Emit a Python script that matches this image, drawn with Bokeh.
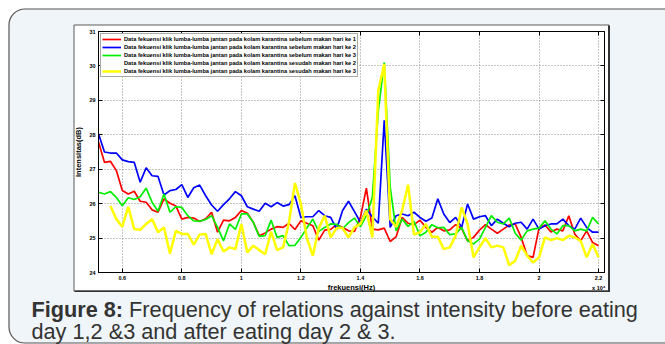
from bokeh.plotting import figure
from bokeh.models import Range1d, FixedTicker, Legend, LegendItem, LinearAxis
from bokeh.core.properties import value
from bokeh.embed import file_html
from bokeh.resources import INLINE

# ---------------- data (frequency in units of 10^4 Hz, intensity in dB) ----------------
freq = [0.52, 0.54, 0.56, 0.58, 0.60, 0.62, 0.64, 0.66, 0.68, 0.70,
        0.72, 0.74, 0.76, 0.78, 0.80, 0.82, 0.84, 0.86, 0.88, 0.90,
        0.92, 0.94, 0.96, 0.98, 1.00, 1.02, 1.04, 1.06, 1.08, 1.10,
        1.12, 1.14, 1.16, 1.18, 1.20, 1.22, 1.24, 1.26, 1.28, 1.30,
        1.32, 1.34, 1.36, 1.38, 1.40, 1.42, 1.44, 1.46, 1.48, 1.50,
        1.52, 1.54, 1.56, 1.58, 1.60, 1.62, 1.64, 1.66, 1.68, 1.70,
        1.72, 1.74, 1.76, 1.78, 1.80, 1.82, 1.84, 1.86, 1.88, 1.90,
        1.92, 1.94, 1.96, 1.98, 2.00, 2.02, 2.04, 2.06, 2.08, 2.10,
        2.12, 2.14, 2.16, 2.18, 2.20]

before_day1 = [27.79, 27.20, 27.23, 26.96, 26.38, 26.28, 26.36, 26.07, 26.04, 25.82,
               25.75, 26.14, 26.01, 25.93, 25.55, 25.60, 25.58, 25.48, 25.56, 25.75,
               25.17, 25.52, 25.50, 25.60, 25.80, 25.72, 25.46, 25.07, 25.15, 25.26,
               25.33, 25.31, 25.43, 25.25, 25.50, 25.43, 25.36, 24.94, 25.23, 25.25,
               25.39, 25.31, 25.21, 25.19, 25.60, 26.45, 25.26, 25.24, 25.29, 24.90,
               25.04, 25.60, 25.43, 25.39, 25.52, 25.31, 25.17, 25.31, 25.21, 25.24,
               25.39, 25.28, 24.92, 25.02, 25.23, 25.39, 25.26, 25.14, 25.26, 25.38,
               25.41, 25.02, 24.49, 24.44, 25.29, 25.38, 25.18, 25.26, 25.21, 25.65,
               25.12, 24.92, 25.21, 24.87, 24.78]

before_day2 = [28.03, 27.50, 27.47, 27.47, 27.27, 27.22, 27.20, 26.62, 27.04, 26.81,
               26.79, 26.25, 26.38, 26.41, 26.55, 26.18, 26.46, 26.54, 26.23, 25.96,
               25.78, 25.97, 26.14, 26.35, 26.23, 25.91, 25.84, 25.78, 26.01, 25.91,
               26.03, 25.93, 25.97, 26.23, 25.60, 25.62, 25.62, 25.80, 25.65, 25.60,
               25.26, 25.80, 26.07, 25.77, 25.46, 25.84, 25.62, 25.43, 28.42, 25.31,
               25.65, 25.70, 25.65, 25.75, 25.60, 25.49, 25.58, 26.14, 25.70, 25.45,
               25.60, 25.31, 25.99, 25.55, 25.62, 25.65, 25.36, 25.55, 25.43, 25.33,
               25.43, 25.46, 25.26, 25.55, 25.26, 25.36, 25.41, 25.41, 25.55, 25.36,
               25.26, 25.58, 25.31, 25.17, 25.17]

before_day3 = [26.33, 26.28, 26.35, 26.18, 25.94, 26.17, 26.12, 26.20, 26.45, 26.04,
               25.78, 26.28, 25.75, 25.91, 25.89, 25.65, 25.50, 25.49, 25.54, 25.65,
               25.31, 24.92, 25.41, 25.25, 25.70, 25.70, 25.46, 25.05, 25.07, 25.52,
               25.02, 25.07, 24.78, 24.79, 25.02, 25.29, 25.55, 25.19, 25.31, 25.41,
               25.40, 25.27, 25.45, 25.58, 25.33, 25.65, 26.18, 28.70, 30.10, 26.48,
               25.21, 25.55, 25.34, 25.49, 25.07, 25.17, 25.39, 25.30, 25.31, 25.10,
               25.12, 25.31, 24.92, 24.83, 24.97, 25.31, 25.65, 25.46, 25.41, 25.58,
               25.14, 24.94, 25.21, 25.26, 25.29, 25.50, 25.26, 25.12, 25.36, 25.36,
               25.21, 25.26, 25.21, 25.60, 25.41]

# after eating, day 2 (black) is not visible in the picture (hidden): legend entry only
after_day2 = []

# after eating, day 3 (yellow) starts at 0.56
after_day3 = [25.93, 25.55, 25.33, 25.91, 25.26, 25.24, 25.41, 25.55, 25.17, 25.31,
              24.55, 25.21, 25.12, 25.12, 24.81, 25.10, 25.12, 24.53, 24.97, 24.61,
              24.73, 24.68, 25.41, 24.58, 24.78, 24.65, 24.53, 25.19, 24.65, 24.73,
              25.46, 26.60, 25.99, 25.00, 24.49, 25.29, 25.65, 25.02, 25.29, 25.29,
              25.02, 25.31, 25.41, 25.80, 25.02, 29.29, 30.05, 25.55, 25.33, 25.80,
              26.55, 25.10, 25.17, 25.41, 25.04, 25.04, 24.68, 24.73, 25.07, 25.89,
              25.41, 24.44, 24.73, 25.00, 24.73, 24.78, 24.73, 24.21, 24.34, 24.78,
              24.49, 24.29, 24.44, 25.02, 24.94, 25.00, 24.94, 25.07, 25.02, 24.92,
              24.44, 24.83, 24.44]
freq_after_day3 = freq[2:]

legend_labels = [
    "Data fekuensi klik lumba-lumba jantan pada kolam karantina sebelum makan hari ke 1",
    "Data fekuensi klik lumba-lumba jantan pada kolam karantina sebelum makan hari ke 2",
    "Data fekuensi klik lumba-lumba jantan pada kolam karantina sebelum makan hari ke 3",
    "Data fekuensi klik lumba-lumba jantan pada kolam karantina sesudah makan hari ke 2",
    "Data fekuensi klik lumba-lumba jantan pada kolam karantina sesudah makan hari ke 3",
]

x_ticks = [0.6, 0.8, 1.0, 1.2, 1.4, 1.6, 1.8, 2.0, 2.2]
x_tick_labels = ["0.6", "0.8", "1", "1.2", "1.4", "1.6", "1.8", "2", "2.2"]
y_ticks = [24, 25, 26, 27, 28, 29, 30, 31]

x_axis_title = "frekuensi(Hz)"
x_axis_multiplier = "x 10\u2074"
y_axis_title = "Intensitas(dB)"

caption_bold = "Figure 8:"
caption_line1 = "Frequency of relations against intensity before eating"
caption_line2 = "day 1,2 &3 and after eating day 2 & 3."

# ---------------- styling ----------------
FONT = "Liberation Sans"
CARD = "#eff5f8"
H = 344  # page height; background figure uses y = H - page_y

# ---------------- background page (card, white panel, caption) ----------------
bg = figure(width=665, height=344, x_range=Range1d(0, 665), y_range=Range1d(0, H),
            x_axis_location=None, y_axis_location=None,
            output_backend="svg", toolbar_location=None, min_border=0,
            border_fill_color="white", background_fill_color="white",
            outline_line_color=None)
bg.grid.visible = False
bg.quad(left=[8.5], right=[720], top=[H - 8.5], bottom=[H - 342.5],
        fill_color=CARD, line_color="#555555", line_width=1.2, border_radius=16)
bg.quad(left=[73.5], right=[608.5], top=[H - 24.5], bottom=[H - 290.5],
        fill_color="white", line_color="#5a5a5a", line_width=1)
bg.quad(left=[607.5], right=[609.5], top=[H - 25], bottom=[H - 291.5],
        fill_color="#333333", line_color=None)
bg.quad(left=[74], right=[609.5], top=[H - 290], bottom=[H - 291.5],
        fill_color="#333333", line_color=None)

bg.text(x=[605], y=[H - 287.1], text=[x_axis_multiplier], text_font=value(FONT),
        text_font_style="bold", text_font_size="5.5px", text_color="black",
        text_align="right", text_baseline="middle")

cap = dict(text_font=value(FONT), text_font_size="21.7px", text_color="#333333",
           text_align="left", text_baseline="middle")
bg.text(x=[31], y=[H - 308.5], text=[caption_bold], text_font_style="bold", **cap)
bg.text(x=[128.6], y=[H - 308.5], text=[caption_line1], **cap)
bg.text(x=[31], y=[H - 331], text=[caption_line2], **cap)

# ---------------- chart (transparent canvas laid over the page) ----------------
p = figure(width=665, height=344,
           x_range=Range1d(0.52, 2.22), y_range=Range1d(24, 31),
           output_backend="svg", toolbar_location=None,
           min_border_left=98, min_border_right=61, min_border_top=31, min_border_bottom=72,
           border_fill_alpha=0.0, background_fill_color="white",
           outline_line_color="black", outline_line_width=1, outline_line_alpha=1.0,
           styles={"position": "absolute", "left": "0px", "top": "0px"})

p.add_layout(LinearAxis(), "above")
p.add_layout(LinearAxis(), "right")

xt = FixedTicker(ticks=x_ticks)
yt = FixedTicker(ticks=y_ticks)
for ax in p.xaxis:
    ax.ticker = xt
for ax in p.yaxis:
    ax.ticker = yt
for ax in p.axis:
    ax.major_tick_in = 4
    ax.major_tick_out = 0
    ax.minor_tick_line_color = None
    ax.axis_line_color = "black"
    ax.axis_line_width = 1
    ax.major_tick_line_color = "black"
    ax.major_label_text_font = FONT
    ax.major_label_text_font_style = "bold"
    ax.major_label_text_font_size = "5.5px"
    ax.major_label_text_color = "black"
    ax.major_label_standoff = 3
    ax.axis_label_text_font = FONT
    ax.axis_label_text_font_style = "bold"
    ax.axis_label_text_font_size = "7.5px"
    ax.axis_label_text_color = "black"

for ax in (p.above[-1], p.right[-1]):
    ax.major_label_text_color = None
    ax.major_label_standoff = 0

bx = p.below[0]
bx.major_label_overrides = dict(zip(x_ticks, x_tick_labels))
bx.axis_label = x_axis_title
bx.axis_label_standoff = 0
ly = p.left[0]
ly.axis_label = y_axis_title
ly.axis_label_standoff = 3

for g in p.grid:
    g.grid_line_color = "#8c8c8c"
    g.grid_line_dash = "1 2"
    g.grid_line_width = 1

r1 = p.line(freq, before_day1, line_color="#ff0000", line_width=1.7)
r2 = p.line(freq, before_day2, line_color="#0000ff", line_width=1.7)
r3 = p.line(freq, before_day3, line_color="#00ee00", line_width=1.7)
r4 = p.line(after_day2, after_day2, line_color="#000000", line_width=2)
r5 = p.line(freq_after_day3, after_day3, line_color="#ffff00", line_width=2.5)

legend = Legend(items=[LegendItem(label=lab, renderers=[r]) for lab, r in
                       zip(legend_labels, [r1, r2, r3, r4, r5])],
                location="top_left", margin=2, padding=1, spacing=0,
                glyph_width=19, glyph_height=8, label_height=8, label_standoff=3,
                label_text_font=FONT, label_text_font_size="5.7px",
                label_text_font_style="bold", label_text_color="black",
                border_line_color="#555555", border_line_width=1,
                background_fill_color="white", background_fill_alpha=1.0)
p.add_layout(legend)

open("out.html", "w").write(file_html([bg, p], INLINE))
